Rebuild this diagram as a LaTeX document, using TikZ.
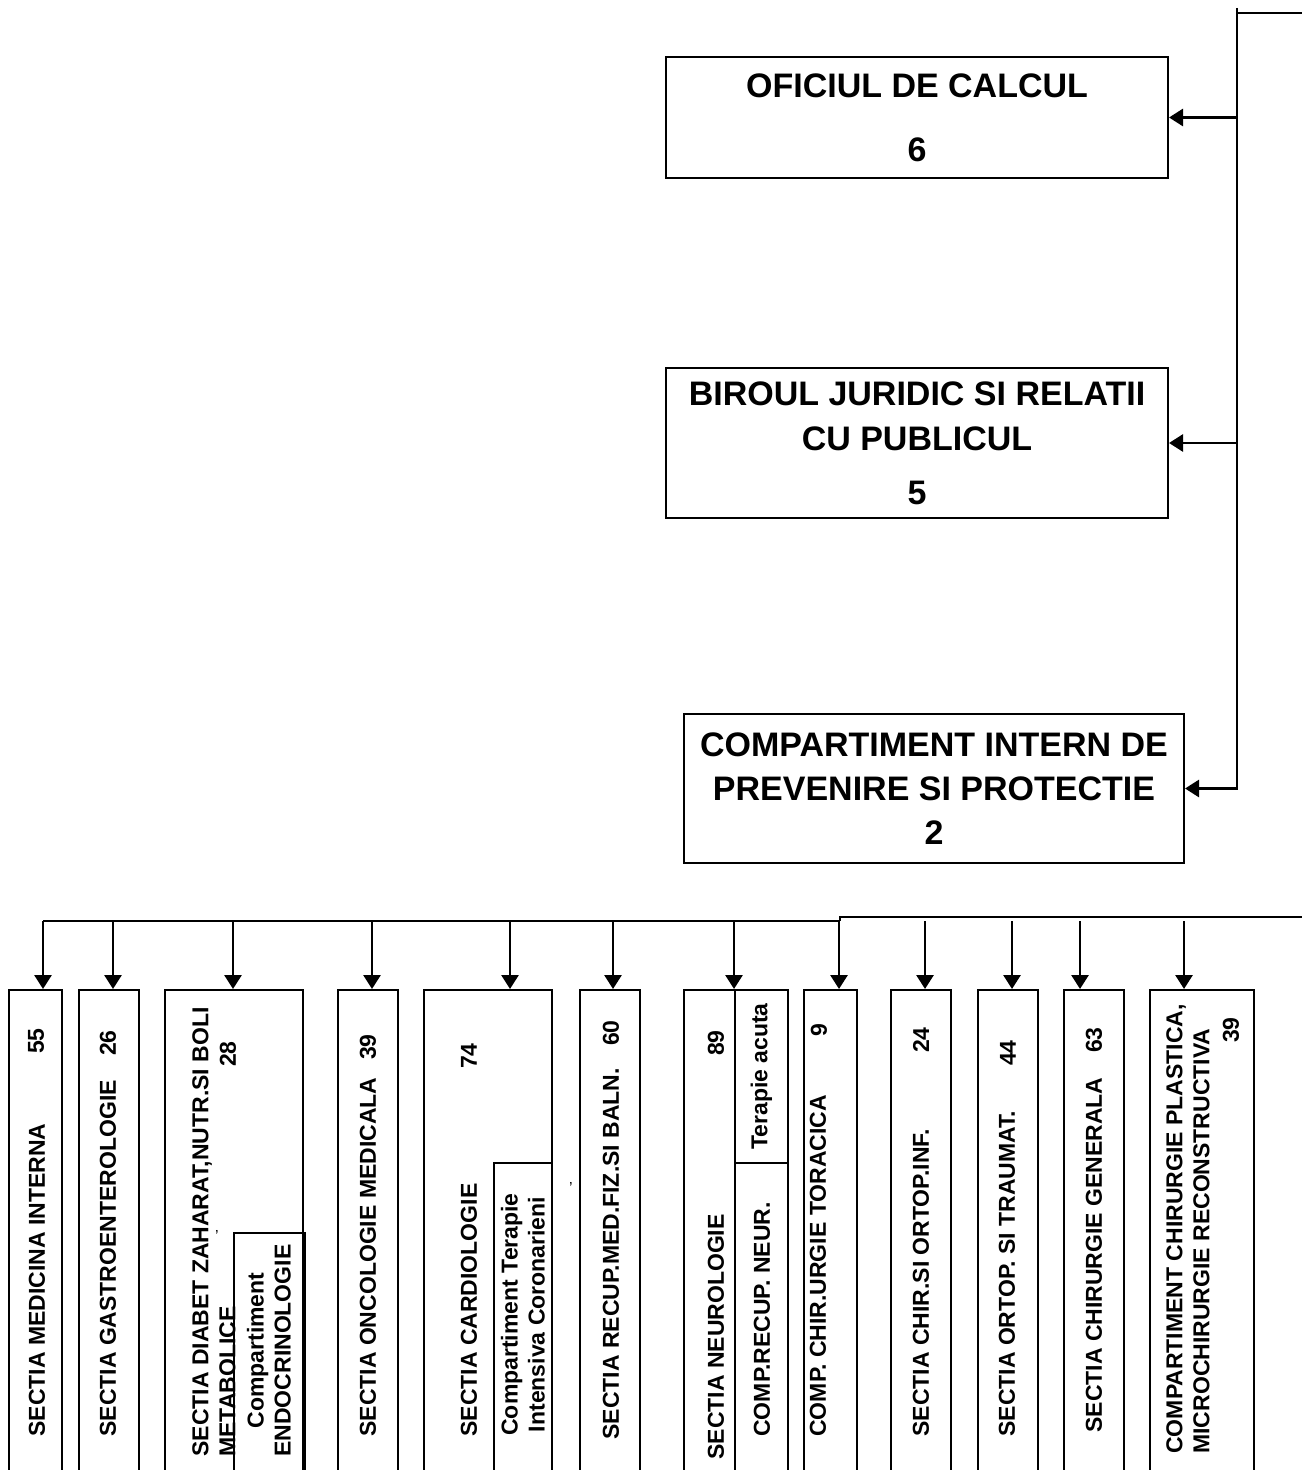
\documentclass[tikz,border=0pt]{standalone}
\usepackage{fontspec}
\setmainfont{Liberation Sans}
\usetikzlibrary{arrows.meta}

\tikzset{
  unit/.style={draw, line width=1pt, inner sep=0pt, anchor=north west, minimum height=265pt},
  office/.style={draw, line width=1pt, inner sep=0pt, anchor=north west, align=center,
    font=\fontsize{17}{21}\selectfont\bfseries},
  vlabel/.style={rotate=90, anchor=west, inner sep=0pt, align=left,
    font=\fontsize{11.5}{13.5}\selectfont\bfseries},
  vnum/.style={rotate=90, inner sep=0pt, font=\fontsize{11.5}{13.5}\selectfont\bfseries},
  link/.style={line width=1.4pt, -{Triangle[length=7pt,width=8.5pt]}},
}

\begin{document}
\begin{tikzpicture}[x=0.5pt, y=-0.5pt]
\useasboundingbox (0,0) rectangle (1302,1470);
\clip (0,0) rectangle (1302,1470);

% offices on the right-hand trunk
\node[office, minimum width=251pt, minimum height=60.5pt] (oficiu) at (665,56)
  {OFICIUL DE CALCUL\\[11pt]6};
\node[office, minimum width=251pt, minimum height=75pt] (birou) at (665,367)
  {BIROUL JURIDIC SI RELATII\\[1.5pt]CU PUBLICUL\\[6pt]5};
\node[office, minimum width=250pt, minimum height=74.5pt,
  font=\fontsize{17}{22}\selectfont\bfseries] (cipp) at (683,713)
  {COMPARTIMENT INTERN DE\\PREVENIRE SI PROTECTIE\\2};

\coordinate (trunkN) at (1237,8);
\coordinate (topout) at (1302,13);
\draw[line width=1pt] (trunkN |- topout) -- (topout);
\draw[link] (trunkN) -- (cipp.east -| trunkN) -- (cipp.east);
\draw[link] (oficiu.east -| trunkN) -- (oficiu.east);
\draw[link] (birou.east -| trunkN) -- (birou.east);

% sections, cut by the page edge
\node[unit, minimum width=26.5pt] (medint) at (8,989) {};
\node[unit, minimum width=30pt] (gastro) at (78,989) {};
\node[unit, minimum width=69pt] (diabet) at (164,989) {};
\node[unit, minimum width=35.5pt] (endo) at (233,1232) {};
\node[unit, minimum width=30pt] (onco) at (337,989) {};
\node[unit, minimum width=64pt] (cardio) at (423,989) {};
\node[unit, minimum width=29pt] (coron) at (493,1162) {};
\node[unit, minimum width=30pt] (recup) at (579,989) {};
\node[unit, minimum width=52pt] (neuro) at (683,989) {};
\node[unit, minimum width=26.5pt, minimum height=86.5pt] (acuta) at (734,989) {};
\node[unit, minimum width=26.5pt] (neurec) at (734,1162) {};
\node[unit, minimum width=26.5pt] (torac) at (803,989) {};
\node[unit, minimum width=30pt] (ortinf) at (890,989) {};
\node[unit, minimum width=30pt] (traumat) at (977,989) {};
\node[unit, minimum width=30pt] (chirgen) at (1063,989) {};
\node[unit, minimum width=52pt] (plast) at (1149,989) {};

% texts
\node[vlabel] (l-medint) at (37,1437) {SECTIA MEDICINA INTERNA};
\node[vnum] (n-medint) at (36,1041) {55};
\node[vlabel] (l-gastro) at (108,1437) {SECTIA GASTROENTEROLOGIE};
\node[vnum] (n-gastro) at (108,1043) {26};
\node[vlabel] (l-diabet) at (214,1457) {SECTIA DIABET ZAHARAT,NUTR.SI BOLI\\METABOLICE};
\node[vnum] (n-diabet) at (228,1054) {28};
\node[vlabel, align=center] (l-endo) at (269,1457) {Compartiment\\ENDOCRINOLOGIE};
\node[vlabel] (l-onco) at (368,1437) {SECTIA ONCOLOGIE MEDICALA};
\node[vnum] (n-onco) at (368,1047) {39};
\node[vlabel] (l-cardio) at (469,1437) {SECTIA CARDIOLOGIE};
\node[vnum] (n-cardio) at (469,1056) {74};
\node[vlabel, align=center] (l-coron) at (523,1436) {Compartiment Terapie\\Intensiva Coronarieni};
\node[vlabel] (l-recup) at (611,1440) {SECTIA RECUP.MED.FIZ.SI BALN.};
\node[vnum] (n-recup) at (611,1033) {60};
\node[vlabel] (l-neuro) at (716,1460) {SECTIA NEUROLOGIE};
\node[vnum] (n-neuro) at (716,1043) {89};
\node[vnum] (l-acuta) at (acuta.center) {Terapie acuta};
\node[vlabel] (l-neurec) at (762,1437) {COMP.RECUP. NEUR.};
\node[vlabel] (l-torac) at (818,1437) {COMP. CHIR.URGIE TORACICA};
\node[vnum] (n-torac) at (819,1030) {9};
\node[vlabel] (l-ortinf) at (921,1437) {SECTIA CHIR.SI ORTOP.INF.};
\node[vnum] (n-ortinf) at (921,1040) {24};
\node[vlabel] (l-traumat) at (1007,1437) {SECTIA ORTOP. SI TRAUMAT.};
\node[vnum] (n-traumat) at (1008,1053) {44};
\node[vlabel] (l-chirgen) at (1094,1433) {SECTIA CHIRURGIE GENERALA};
\node[vnum] (n-chirgen) at (1094,1040) {63};
\node[vlabel] (l-plast) at (1188,1454) {COMPARTIMENT CHIRURGIE PLASTICA,\\MICROCHIRURGIE RECONSTRUCTIVA};
\node[vnum] (n-plast) at (1231,1030) {39};

% stray ticks
\node[inner sep=0pt, font=\fontsize{8}{8}\selectfont] (tick1) at (217,1236) {'};
\node[inner sep=0pt, font=\fontsize{8}{8}\selectfont] (tick2) at (571,1188) {'};

% bus
\coordinate (busW) at (43,921);
\coordinate (busJ) at (840,921);
\coordinate (busJ2) at (840,917);
\coordinate (busE) at (1302,917);
\draw[line width=1.4pt] (busW) -- (busJ);
\draw[line width=1pt] (busJ) -- (busJ2) -- (busE);

\foreach \x/\b in {43/medint, 113/gastro, 233/diabet, 372/onco, 510/cardio, 613/recup,
  734/neuro, 839/torac, 925/ortinf, 1012/traumat, 1080/chirgen, 1184/plast}{
  \coordinate (t-\b) at (\x,921);
  \draw[link] (t-\b) -- (t-\b |- \b.north);
}

\end{tikzpicture}
\end{document}
